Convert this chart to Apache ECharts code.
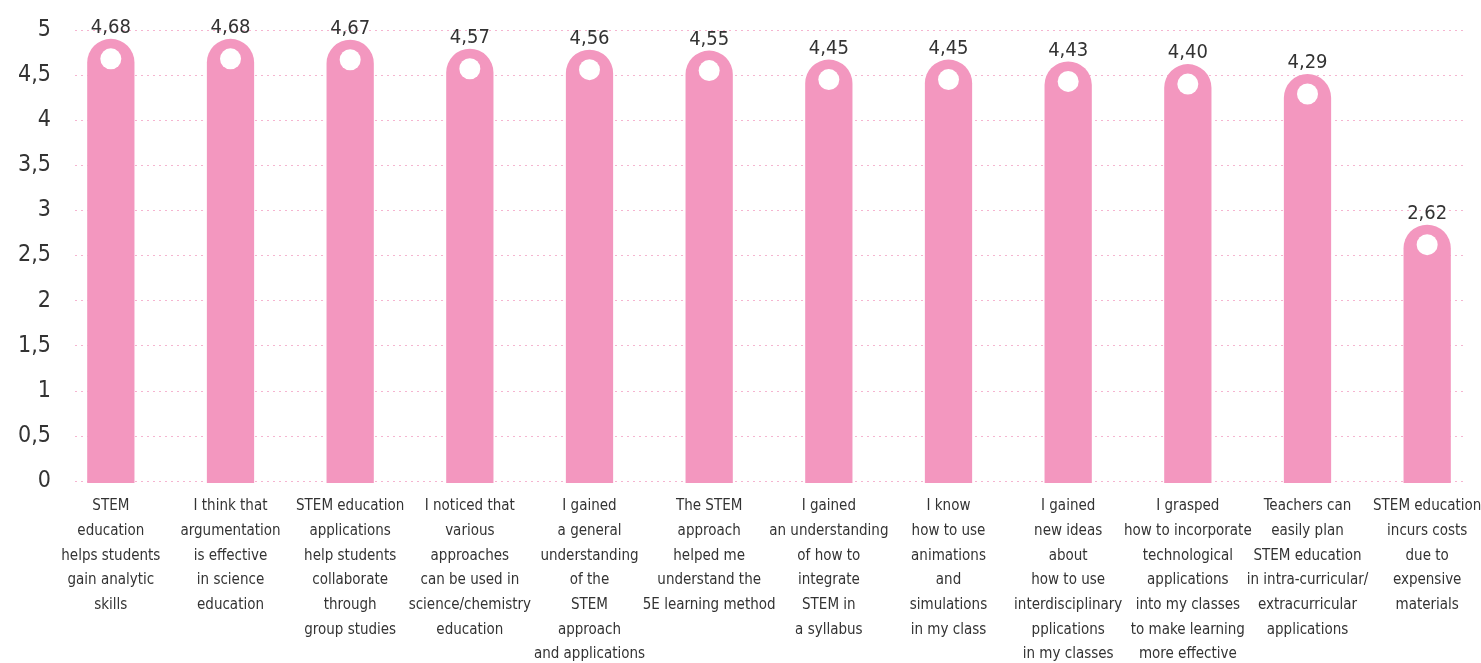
<!DOCTYPE html>
<html>
<head>
<meta charset="utf-8">
<script src="https://cdn.jsdelivr.net/npm/echarts@6/dist/echarts.min.js"></script>
<style>
html,body{margin:0;padding:0;background:#fff;}
#chart{width:1481px;height:663px;}
</style>
</head>
<body>
<div id="chart"></div>
<script>
var categories = [
  "STEM\neducation\nhelps students\ngain analytic\nskills",
  "I think that\nargumentation\nis effective\nin science\neducation",
  "STEM education\napplications\nhelp students\ncollaborate\nthrough\ngroup studies",
  "I noticed that\nvarious\napproaches\ncan be used in\nscience/chemistry\neducation",
  "I gained\na general\nunderstanding\nof the\nSTEM\napproach\nand applications",
  "The STEM\napproach\nhelped me\nunderstand the\n5E learning method",
  "I gained\nan understanding\nof how to\nintegrate\nSTEM in\na syllabus",
  "I know\nhow to use\nanimations\nand\nsimulations\nin my class",
  "I gained\nnew ideas\nabout\nhow to use\ninterdisciplinary\npplications\nin my classes",
  "I grasped\nhow to incorporate\ntechnological\napplications\ninto my classes\nto make learning\nmore effective",
  "Teachers can\neasily plan\nSTEM education\nin intra-curricular/\nextracurricular\napplications",
  "STEM education\nincurs costs\ndue to\nexpensive\nmaterials"
];
var scores = [4.68, 4.68, 4.67, 4.57, 4.56, 4.55, 4.45, 4.45, 4.43, 4.40, 4.29, 2.62];
var yMin = 0, yMax = 5, yStep = 0.5;

var FONT = '"Liberation Sans Narrow", "DejaVu Sans Condensed", "Roboto", sans-serif';
var BAR = '#F397BF';
var TEXT = '#333333';
function fmt(v){ return v.toFixed(2).replace('.', ','); }

var chart = echarts.init(document.getElementById('chart'), null, {renderer:'canvas'});
var option = {
  backgroundColor: '#ffffff',
  animation: false,
  grid: [
    {left: 75, right: 16, top: 30, bottom: 182, containLabel: false, outerBoundsMode: 'none'},
    {left: 51, right: -6, top: 30, bottom: 182, containLabel: false, outerBoundsMode: 'none'}
  ],
  xAxis: [
    {gridIndex: 0, type: 'value', min: 0, max: 1, show: false},
    {gridIndex: 1, type: 'category', data: categories,
     axisLine: {show: false}, axisTick: {show: false},
     axisLabel: {interval: 0, color: TEXT, fontFamily: FONT, fontSize: 15, lineHeight: 24.7, margin: 13, align: 'center', verticalAlign: 'top'}}
  ],
  yAxis: [
    {gridIndex: 0, type: 'value', min: yMin, max: yMax, interval: yStep,
     axisLine: {show: false}, axisTick: {show: false},
     axisLabel: {color: TEXT, fontFamily: FONT, fontSize: 23, margin: 24,
       formatter: function(v){ return String(v).replace('.', ','); }},
     splitLine: {show: true, lineStyle: {color: '#F5B5D0', width: 1, type: [2, 4]}}},
    {gridIndex: 1, type: 'value', min: yMin, max: yMax, interval: yStep, show: false, splitLine: {show: false}}
  ],
  series: [{
    type: 'custom',
    xAxisIndex: 1, yAxisIndex: 1,
    data: scores.map(function(v, i){ return [i, v]; }),
    encode: {x: 0, y: 1},
    renderItem: function(params, api){
      var v = api.value(1);
      var top = api.coord([api.value(0), v]);
      var base = api.coord([api.value(0), 0]);
      var band = api.size([1, 0])[0];
      var w = band * 0.395, r = w / 2;
      var y = top[1] - 20;
      return {type: 'group', children: [
        {type: 'rect', shape: {x: top[0] - r, y: y, width: w, height: base[1] - y + 2, r: [r, r, 0, 0]}, style: {fill: BAR}},
        {type: 'circle', shape: {cx: top[0], cy: top[1], r: 10.5}, style: {fill: '#ffffff'}},
        {type: 'text', x: top[0], y: y - 11, style: {text: fmt(v), fill: TEXT, font: '20px ' + FONT, align: 'center', verticalAlign: 'middle'}}
      ]};
    }
  }]
};
chart.setOption(option);
</script>
</body>
</html>
